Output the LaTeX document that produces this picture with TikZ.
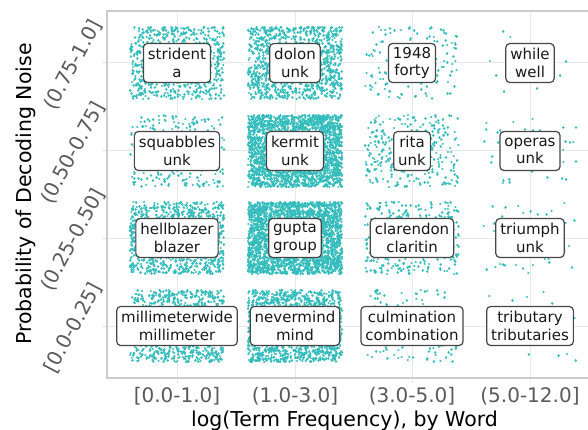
\documentclass[tikz,border=0pt]{standalone}
\usepackage{fontspec}
\setmainfont{DejaVu Sans}
\definecolor{dotc}{RGB}{52,188,188}
\definecolor{gridc}{RGB}{232,232,232}
\definecolor{spinec}{RGB}{204,204,204}
\definecolor{tickc}{RGB}{90,90,90}
\definecolor{boxc}{RGB}{70,70,70}
% #1,#2 centre; #3 number of groups; #4 dots per group
\newcommand\dotcloud[4]{\foreach \j in {1,...,#3} {\draw[dotstyle] \foreach \k in {1,...,#4} {({#1+47*rand},{#2+36*rand}) -- ++(0.01,0)};}}
\begin{document}
\begin{tikzpicture}[x=1pt,y=-1pt,
  dotstyle/.style={dotc, line width=2.6pt, line cap=round},
  lbl/.style={draw=boxc, line width=1.2pt, rounded corners=4pt, fill=white, align=center,
    inner xsep=4.5pt, inner ysep=0pt, minimum height=39pt,
    font=\fontsize{15}{17.5}\selectfont, text=black!90},
  xtick/.style={text=tickc, font=\fontsize{20}{24}\selectfont, anchor=base},
  ytick/.style={text=tickc, font=\fontsize{20}{24}\selectfont, rotate=62, anchor=center},
  axlabel/.style={text=black, font=\fontsize{20.5}{24}\selectfont, anchor=base},
  gridline/.style={gridc, line width=1pt}]
\useasboundingbox (0,0) rectangle (588,430);
\pgfmathsetseed{7}
% grid
\foreach \c in {177,295,412,530} {\draw[gridline] (\c,11) -- (\c,383);}
\foreach \r in {63,151,238,326} {\draw[gridline] (102,\r) -- (588,\r);}
% dots
\dotcloud{177}{63}{15}{50}
\dotcloud{295}{63}{22}{50}
\dotcloud{412}{63}{3}{45}
\dotcloud{530}{63}{1}{12}
\dotcloud{177}{151}{5}{50}
\dotcloud{295}{151}{48}{50}
\dotcloud{412}{151}{6}{50}
\dotcloud{530}{151}{1}{45}
\dotcloud{177}{238}{20}{50}
\dotcloud{295}{238}{52}{50}
\dotcloud{412}{238}{7}{50}
\dotcloud{530}{238}{1}{50}
\dotcloud{177}{326}{17}{50}
\dotcloud{295}{326}{28}{50}
\dotcloud{412}{326}{3}{45}
\dotcloud{530}{326}{1}{20}
% spines
\draw[spinec, line width=1.3pt] (588,11) -- (107,11) -- (107,378) -- (588,378);
% boxes
\node[lbl] (b11) at (177,63) {strident\\a};
\node[lbl] (b12) at (295,63) {dolon\\unk};
\node[lbl] (b13) at (412,63) {1948\\forty};
\node[lbl] (b14) at (530,63) {while\\well};
\node[lbl] (b21) at (177,151) {squabbles\\unk};
\node[lbl] (b22) at (295,151) {kermit\\unk};
\node[lbl] (b23) at (412,151) {rita\\unk};
\node[lbl] (b24) at (530,151) {operas\\unk};
\node[lbl] (b31) at (177,238) {hellblazer\\blazer};
\node[lbl] (b32) at (295,238) {gupta\\group};
\node[lbl] (b33) at (412,238) {clarendon\\claritin};
\node[lbl] (b34) at (530,238) {triumph\\unk};
\node[lbl] (b41) at (177,326) {millimeterwide\\millimeter};
\node[lbl] (b42) at (295,326) {nevermind\\mind};
\node[lbl] (b43) at (412,326) {culmination\\combination};
\node[lbl] (b44) at (530,326) {tributary\\tributaries};
% tick labels
\node[xtick] (x1) at (177,402.5) {[0.0-1.0]};
\node[xtick] (x2) at (295,402.5) {(1.0-3.0]};
\node[xtick] (x3) at (412,402.5) {(3.0-5.0]};
\node[xtick] (x4) at (530,402.5) {(5.0-12.0]};
\node[ytick] (y1) at (73,65) {(0.75-1.0]};
\node[ytick] (y2) at (73,153) {(0.50-0.75]};
\node[ytick] (y3) at (73,240) {(0.25-0.50]};
\node[ytick] (y4) at (73,328) {[0.0-0.25]};
% axis labels
\node[axlabel] (xl) at (344.5,426) {log(Term Frequency), by Word};
\node[axlabel, rotate=90] (yl) at (31.5,194) {Probability of Decoding Noise};
\end{tikzpicture}
\end{document}
